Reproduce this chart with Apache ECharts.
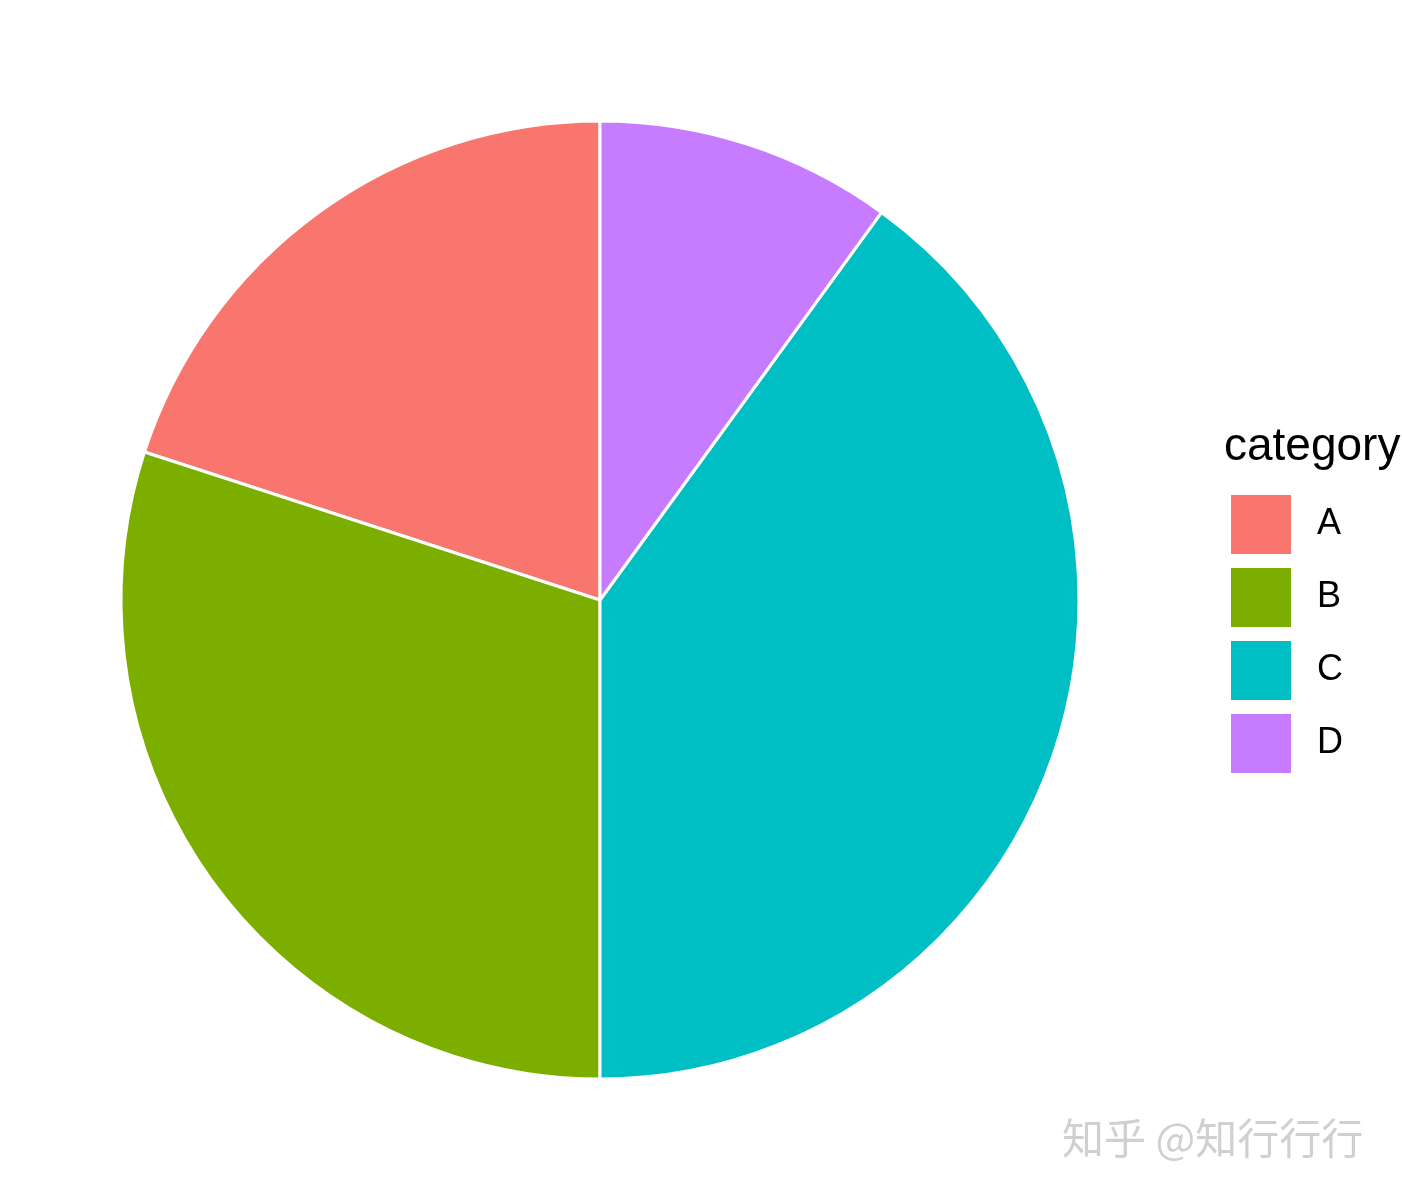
<!DOCTYPE html>
<html>
<head>
<meta charset="utf-8">
<script src="https://cdn.jsdelivr.net/npm/echarts@6/dist/echarts.min.js"></script>
<style>html,body{margin:0;padding:0;background:#fff}#c{width:1402px;height:1200px}</style>
</head>
<body>
<div id="c"></div>
<script>
const categories = ['A', 'B', 'C', 'D'];
const values = [20, 30, 40, 10];
const colors = ['#F8766D', '#7CAE00', '#00BFC4', '#C77CFF'];

const chart = echarts.init(document.getElementById('c'));
chart.setOption({
  backgroundColor: '#ffffff',
  animation: false,
  title: [{
    text: 'category',
    left: 1224, top: 424, padding: 0,
    textStyle: { fontFamily: 'Liberation Sans, Arial', fontSize: 46, fontWeight: 'normal', color: '#000' }
  }, {
    text: '知乎 @知行行行',
    left: 1062, top: 1117, padding: 0,
    textStyle: {
      fontFamily: 'Noto Sans CJK SC', fontSize: 42, fontWeight: 'normal', color: '#d0d0d0',
      textShadowColor: 'rgba(150,150,150,0.8)', textShadowBlur: 0, textShadowOffsetX: 1.5, textShadowOffsetY: 1.5
    }
  }],
  legend: {
    orient: 'vertical',
    left: 1229, top: 493, padding: 0,
    itemWidth: 62, itemHeight: 61, itemGap: 10,
    icon: 'rect',
    data: categories,
    selectedMode: false,
    textStyle: { fontFamily: 'Liberation Sans, Arial', fontSize: 36, color: '#000', padding: [0, 0, 0, 20] }
  },
  series: [{
    type: 'pie',
    center: [600, 600],
    radius: [0, 479],
    startAngle: 90,
    clockwise: false,
    label: { show: false },
    labelLine: { show: false },
    emphasis: { disabled: true },
    itemStyle: { borderColor: '#ffffff', borderWidth: 3 },
    data: categories.map((c, i) => ({ name: c, value: values[i], itemStyle: { color: colors[i] } }))
  }]
});
</script>
</body>
</html>
